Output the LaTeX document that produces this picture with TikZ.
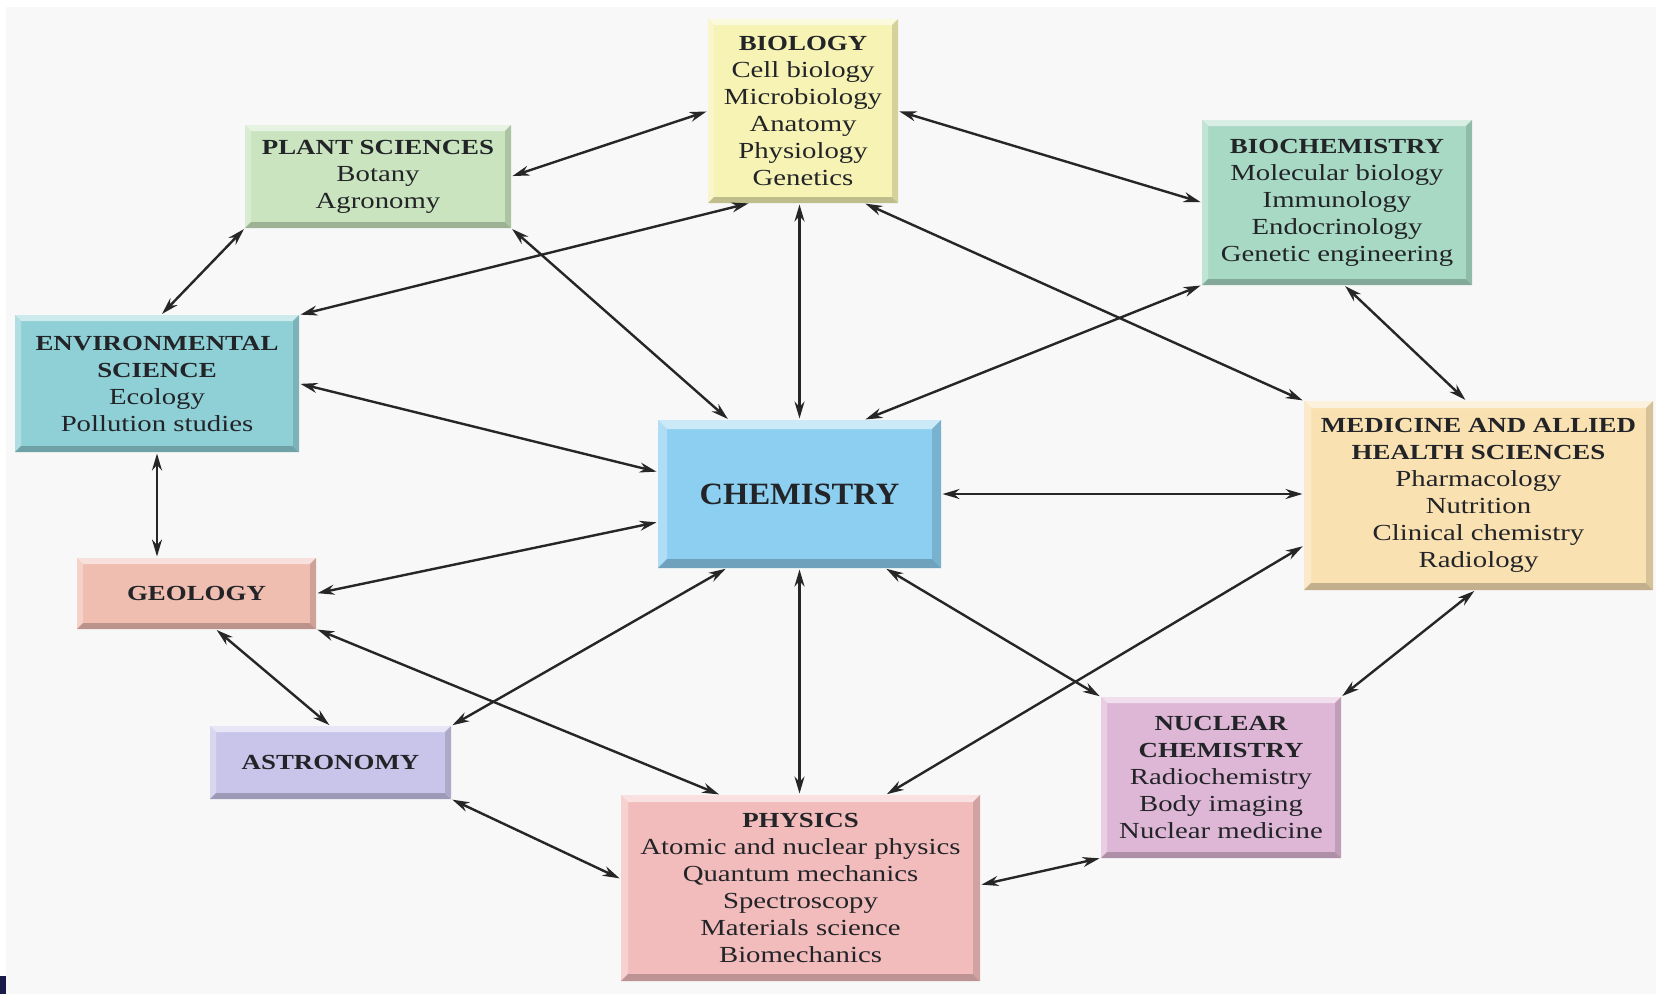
\documentclass[tikz,border=0pt]{standalone}
\usepackage{fontspec}
\setmainfont{Liberation Serif}[FakeStretch=1.25]
\newfontfamily\chemfont{Liberation Serif}[FakeStretch=1.05]
\usetikzlibrary{arrows.meta}
\definecolor{bg}{HTML}{F8F8F8}
\definecolor{navy}{HTML}{1A1A48}
\definecolor{txt}{HTML}{222428}
\definecolor{cBio}{HTML}{F6F3B4}
\definecolor{cPlant}{HTML}{C9E4BE}
\definecolor{cBiochem}{HTML}{A8D9C5}
\definecolor{cEnv}{HTML}{8FD0D6}
\definecolor{cChem}{HTML}{8DCFF0}
\definecolor{cMed}{HTML}{F9E1B2}
\definecolor{cGeo}{HTML}{F0BDB1}
\definecolor{cAstro}{HTML}{C9C5EA}
\definecolor{cPhys}{HTML}{F3BCBC}
\definecolor{cNuc}{HTML}{DFB7D6}
\newcommand\hd[1]{{\fontsize{21.5}{27}\selectfont\bfseries #1}}
\tikzset{
  bx/.style 2 args={inner sep=0pt, outer sep=0pt, fill=#1, align=center, text=txt,
    font={\fontsize{23}{27}\selectfont},
    path picture={
      \fill[#1!45!white] (path picture bounding box.north west) -- (path picture bounding box.north east)
        -- ([shift={(-#2pt,-#2pt)}]path picture bounding box.north east)
        -- ([shift={(#2pt,-#2pt)}]path picture bounding box.north west) -- cycle;
      \fill[#1!70!white] (path picture bounding box.north west)
        -- ([shift={(#2pt,-#2pt)}]path picture bounding box.north west)
        -- ([shift={(#2pt,#2pt)}]path picture bounding box.south west)
        -- (path picture bounding box.south west) -- cycle;
      \fill[#1!78!black] (path picture bounding box.south west)
        -- ([shift={(#2pt,#2pt)}]path picture bounding box.south west)
        -- ([shift={(-#2pt,#2pt)}]path picture bounding box.south east)
        -- (path picture bounding box.south east) -- cycle;
      \fill[#1!86!black] (path picture bounding box.north east)
        -- (path picture bounding box.south east)
        -- ([shift={(-#2pt,#2pt)}]path picture bounding box.south east)
        -- ([shift={(-#2pt,-#2pt)}]path picture bounding box.north east) -- cycle;
    }},
  arr/.style={{Stealth[length=17pt,width=10pt]}-{Stealth[length=17pt,width=10pt]},
    line width=2.4pt, black!85, shorten >=1.5pt, shorten <=1.5pt}
}
\begin{document}
\begin{tikzpicture}[x=1pt,y=-1pt]
\useasboundingbox (0,0) rectangle (1656,994);
\fill[white] (0,0) rectangle (1656,994);
\fill[bg] (6,7) rectangle (1656,994);
\fill[navy] (0,976) rectangle (6,994);

\node[bx={cBio}{6}, minimum width=190pt, minimum height=184pt] (bio) at (803,111)
  {\hd{BIOLOGY}\\Cell biology\\Microbiology\\Anatomy\\Physiology\\Genetics};
\node[bx={cPlant}{6}, minimum width=266pt, minimum height=103pt] (plant) at (378,176.5)
  {\hd{PLANT SCIENCES}\\Botany\\Agronomy};
\node[bx={cBiochem}{6}, minimum width=270pt, minimum height=165pt] (biochem) at (1337,202.5)
  {\hd{BIOCHEMISTRY}\\Molecular biology\\Immunology\\Endocrinology\\Genetic engineering};
\node[bx={cEnv}{6}, minimum width=284pt, minimum height=137pt] (env) at (157,383.5)
  {\hd{ENVIRONMENTAL}\\\hd{SCIENCE}\\Ecology\\Pollution studies};
\node[bx={cChem}{9}, minimum width=283pt, minimum height=148pt] (chem) at (799.5,494)
  {{\chemfont\fontsize{31}{32}\selectfont\bfseries CHEMISTRY}};
\node[bx={cMed}{7}, minimum width=349pt, minimum height=189pt] (med) at (1478.5,495.5)
  {\hd{MEDICINE AND ALLIED}\\\hd{HEALTH SCIENCES}\\Pharmacology\\Nutrition\\Clinical chemistry\\Radiology};
\node[bx={cGeo}{6}, minimum width=239pt, minimum height=71pt] (geo) at (196.5,593.5)
  {\hd{GEOLOGY}};
\node[bx={cAstro}{6}, minimum width=241pt, minimum height=73pt] (astro) at (330.5,762.5)
  {\hd{ASTRONOMY}};
\node[bx={cPhys}{7}, minimum width=359pt, minimum height=186pt] (phys) at (800.5,888)
  {\hd{PHYSICS}\\Atomic and nuclear physics\\Quantum mechanics\\Spectroscopy\\Materials science\\Biomechanics};
\node[bx={cNuc}{6}, minimum width=240pt, minimum height=161pt] (nuc) at (1221,777.5)
  {\hd{NUCLEAR}\\\hd{CHEMISTRY}\\Radiochemistry\\Body imaging\\Nuclear medicine};

\draw[arr] (plant.east) -- (bio.west);
\draw[arr] (bio.east) -- (biochem.west);
\draw[arr] (plant.south west) -- ([xshift=4pt]env.north);
\draw[arr] ([xshift=42pt]bio.south west) -- (env.north east);
\draw[arr] (plant.south east) -- ([xshift=71pt]chem.north west);
\draw[arr] (bio.south -| chem.north) -- (chem.north);
\draw[arr] ([xshift=-34pt]bio.south east) -- (med.north west);
\draw[arr] (biochem.south west) -- ([xshift=-77pt]chem.north east);
\draw[arr] ([xshift=7pt]biochem.south) -- ([xshift=-12pt]med.north);
\draw[arr] (env.east) -- ([yshift=22pt]chem.west);
\draw[arr] (env.south) -- (env.south |- geo.north);
\draw[arr] (chem.east) -- (chem.east -| med.west);
\draw[arr] ([yshift=-28pt]chem.west) -- (geo.east);
\draw[arr] ([xshift=19pt]geo.south) -- (astro.north);
\draw[arr] (geo.south east) -- ([xshift=-80pt]phys.north);
\draw[arr] (astro.north east) -- ([xshift=69pt]chem.south west);
\draw[arr] (chem.south) -- (chem.south |- phys.north);
\draw[arr] ([xshift=-56pt]chem.south east) -- (nuc.north west);
\draw[arr] ([yshift=-50pt]med.west) -- ([xshift=85pt]phys.north);
\draw[arr] ([xshift=-3pt]med.south) -- (nuc.north east);
\draw[arr] (astro.south east) -- ([yshift=9pt]phys.west);
\draw[arr] ([yshift=3pt]phys.east) -- (nuc.south west);
\end{tikzpicture}
\end{document}
